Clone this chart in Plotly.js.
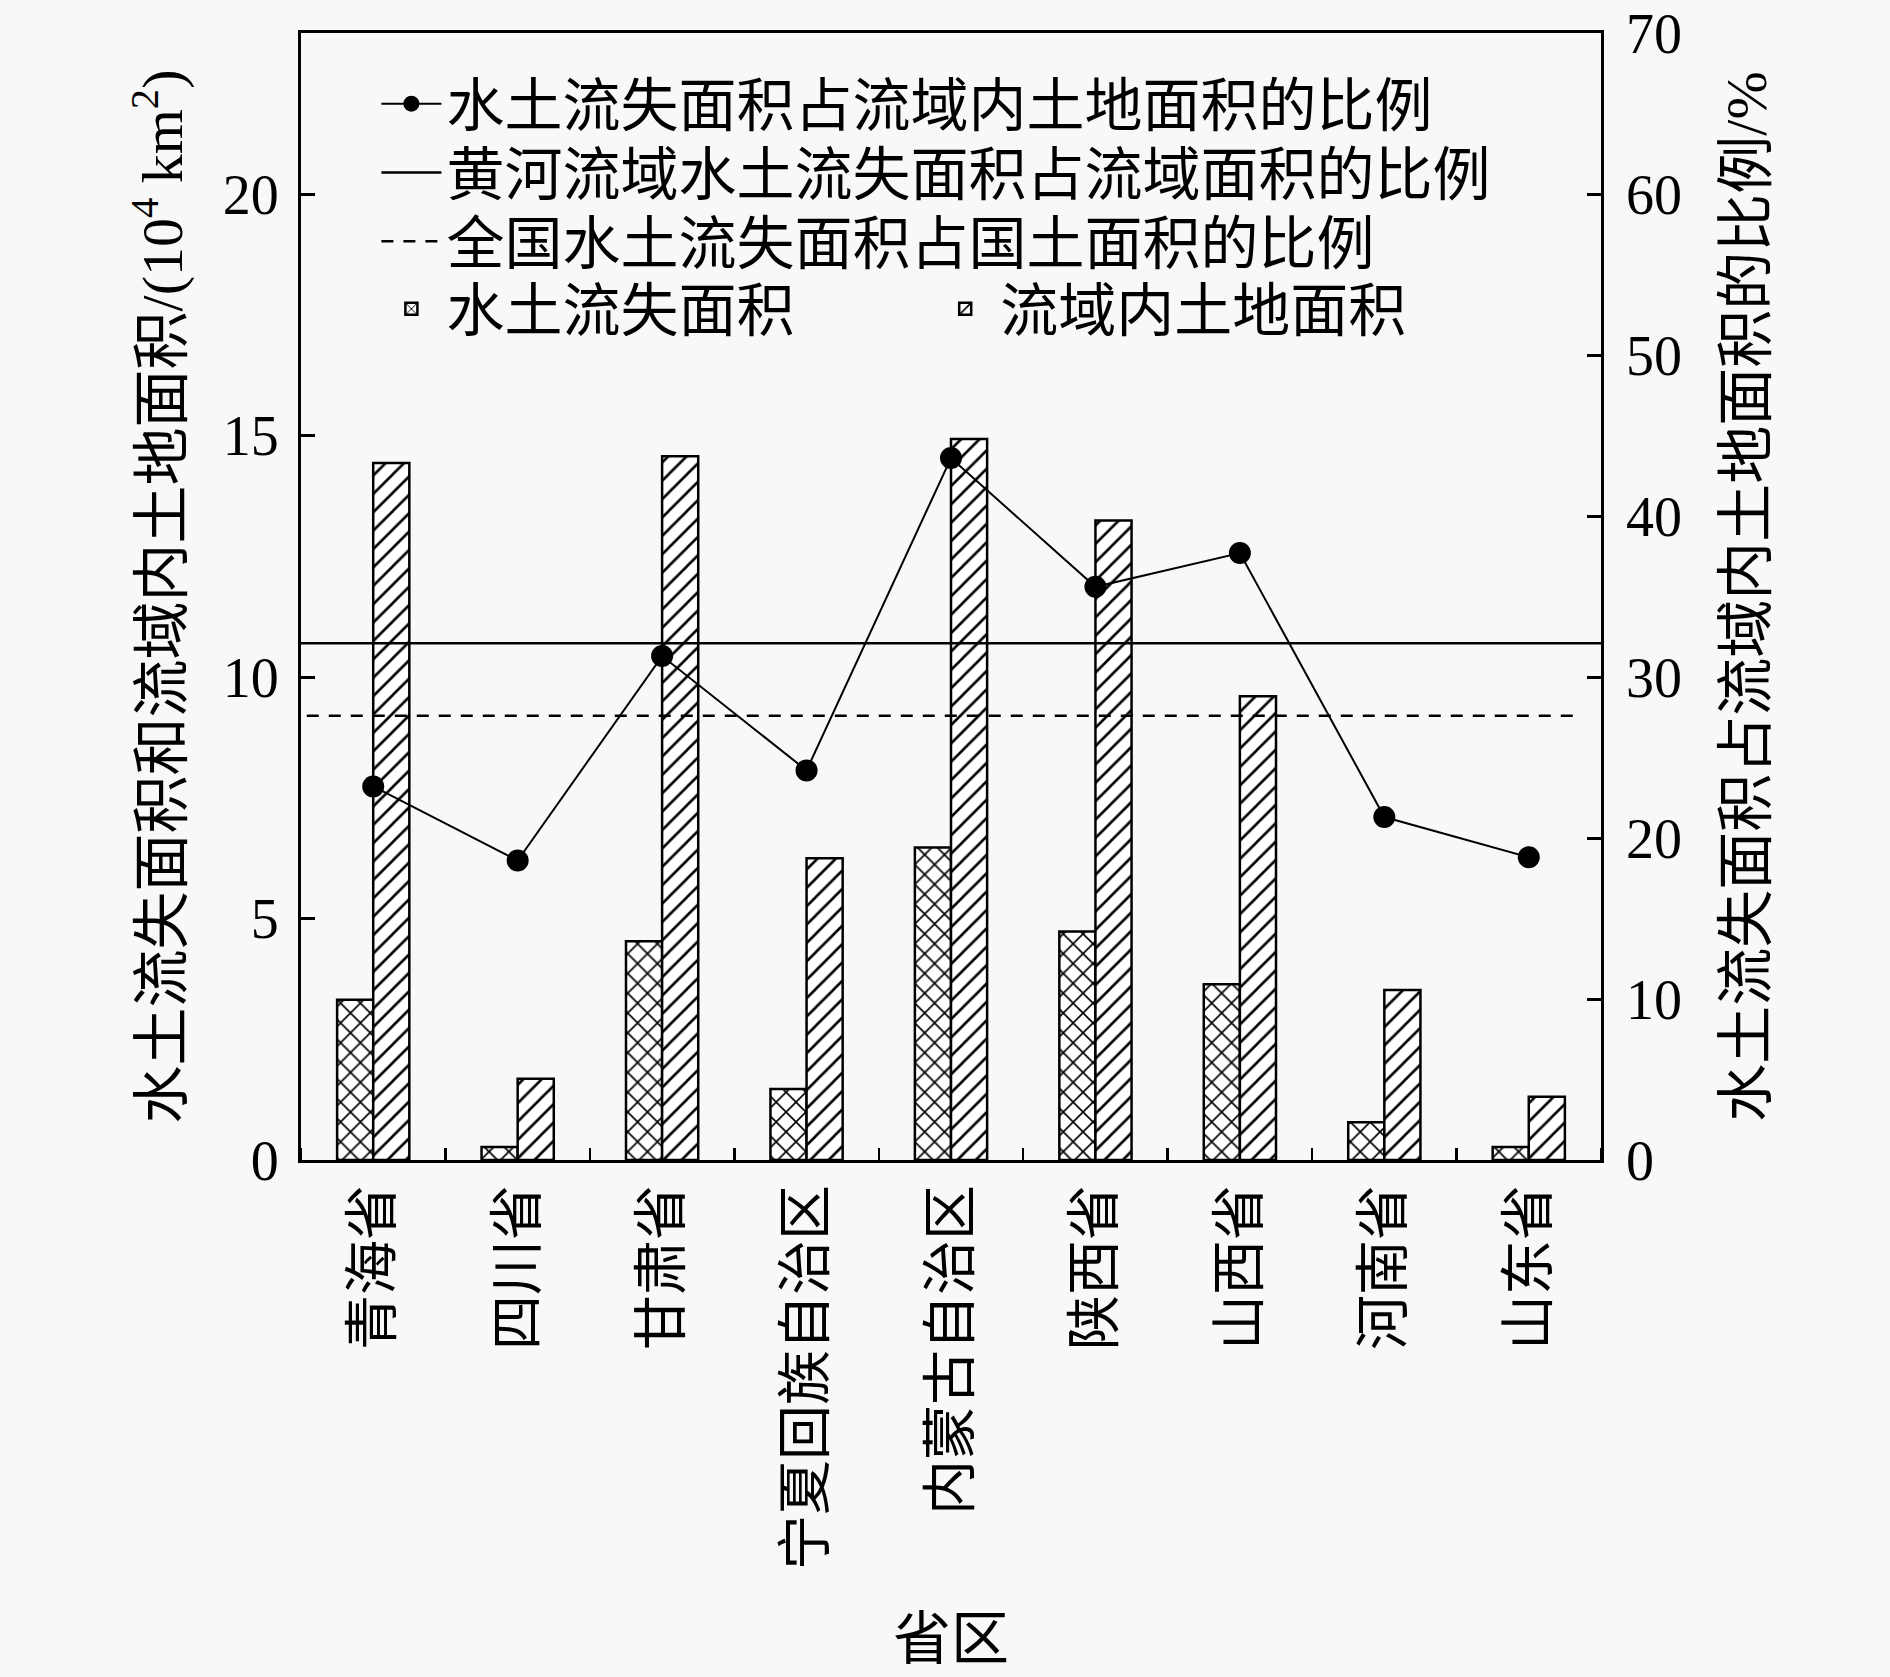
<!DOCTYPE html>
<html>
<head>
<meta charset="utf-8">
<script src="https://cdn.plot.ly/plotly-3.0.1.min.js"></script>
<style>
html,body{margin:0;padding:0;background:#f8f8f8;}
#chart{width:1890px;height:1677px;}
</style>
</head>
<body>
<div id="chart"></div>
<script>
// ---- data ----
const categories = ['青海省','四川省','甘肃省','宁夏回族自治区','内蒙古自治区','陕西省','山西省','河南省','山东省'];
const lossArea = [3.32, 0.27, 4.53, 1.47, 6.47, 4.73, 3.64, 0.78, 0.27];      // 10^4 km2
const landArea = [14.43, 1.68, 14.57, 6.25, 14.93, 13.24, 9.60, 3.52, 1.31];  // 10^4 km2
const lossRatio = [23.2, 18.6, 31.3, 24.2, 43.6, 35.6, 37.7, 21.3, 18.8];     // %
const basinRatio = 32.1;     // %
const nationalRatio = 27.6;  // %
const leftTicks = [0, 5, 10, 15, 20];
const rightTicks = [0, 10, 20, 30, 40, 50, 60, 70];

const names = {
  ratio: '水土流失面积占流域内土地面积的比例',
  basin: '黄河流域水土流失面积占流域面积的比例',
  national: '全国水土流失面积占国土面积的比例',
  loss: '水土流失面积',
  land: '流域内土地面积'
};

const idx = categories.map((c, i) => i);
const FONT = 'Liberation Serif, Noto Sans CJK SC, serif';
const LFS = 58;

const traces = [
  {
    type: 'scatter', mode: 'lines+markers', name: names.ratio,
    x: idx, y: lossRatio, yaxis: 'y2',
    line: {color: 'black', width: 2},
    marker: {color: 'black', size: 22},
    legend: 'legend'
  },
  {
    type: 'scatter', mode: 'lines', name: names.basin,
    x: [-0.5, 8.5], y: [basinRatio, basinRatio], yaxis: 'y2',
    line: {color: 'black', width: 2.5},
    legend: 'legend2'
  },
  {
    type: 'scatter', mode: 'lines', name: names.national,
    x: [-0.46, 8.33], y: [nationalRatio, nationalRatio], yaxis: 'y2',
    line: {color: 'black', width: 2.5, dash: '12px,10px'},
    legend: 'legend3'
  },
  {
    type: 'bar', name: names.loss, x: idx, y: lossArea, yaxis: 'y',
    marker: {color: 'white', line: {color: 'black', width: 2.5},
             pattern: {shape: 'x', fgcolor: 'black', bgcolor: 'white', size: 14, solidity: 0.22}},
    legend: 'legend4'
  },
  {
    type: 'bar', name: names.land, x: idx, y: landArea, yaxis: 'y',
    marker: {color: 'white', line: {color: 'black', width: 2.5},
             pattern: {shape: '/', fgcolor: 'black', bgcolor: 'white', size: 13, solidity: 0.2}},
    legend: 'legend5'
  }
];

function leg(x, y) {
  return {x: x, y: y, xanchor: 'left', yanchor: 'middle', bgcolor: 'rgba(0,0,0,0)',
          font: {family: FONT, size: LFS}, itemwidth: 60};
}

const layout = {
  width: 1890, height: 1677,
  paper_bgcolor: '#f8f8f8', plot_bgcolor: '#f8f8f8',
  margin: {l: 301, r: 289, t: 33, b: 517},
  font: {family: FONT, size: 56, color: 'black'},
  barmode: 'group', bargap: 0.5, bargroupgap: 0,
  showlegend: true,
  legend: leg(0.058, 0.937),
  legend2: leg(0.058, 0.876),
  legend3: leg(0.058, 0.815),
  legend4: leg(0.058, 0.755),
  legend5: leg(0.484, 0.755),
  xaxis: {
    range: [-0.5, 8.5],
    tickmode: 'array', tickvals: idx, ticktext: categories,
    tickangle: -90, ticks: '', ticklen: 0,
    tickfont: {family: FONT, size: 55},
    showline: true, linecolor: 'black', linewidth: 3, mirror: true,
    showgrid: false, zeroline: false,
    minor: {tickmode: 'linear', tick0: 0.5, dtick: 1, ticks: 'inside', ticklen: 12, tickwidth: 2.5, tickcolor: 'black', showgrid: false},
    title: {text: '省区', font: {family: FONT, size: 58}, standoff: 50}
  },
  yaxis: {
    range: [0, 70 / 3],
    tickmode: 'array', tickvals: leftTicks,
    ticks: 'inside', ticklen: 14, tickwidth: 3, tickcolor: 'black',
    tickfont: {family: FONT, size: 56}, ticklabelstandoff: 8,
    showline: true, linecolor: 'black', linewidth: 3, mirror: true,
    showgrid: false, zeroline: false,
    title: {text: '水土流失面积和流域内土地面积/(10<sup>4</sup> km<sup>2</sup>)', font: {family: FONT, size: 58}, standoff: 22}
  },
  yaxis2: {
    range: [0, 70], overlaying: 'y', side: 'right',
    tickmode: 'array', tickvals: rightTicks,
    ticks: 'inside', ticklen: 14, tickwidth: 3, tickcolor: 'black',
    tickfont: {family: FONT, size: 56}, ticklabelstandoff: 24,
    showline: false, showgrid: false, zeroline: false,
    title: {text: '水土流失面积占流域内土地面积的比例/%', font: {family: FONT, size: 58}, standoff: 44}
  }
};

Plotly.newPlot('chart', traces, layout, {staticPlot: true});
</script>
</body>
</html>
